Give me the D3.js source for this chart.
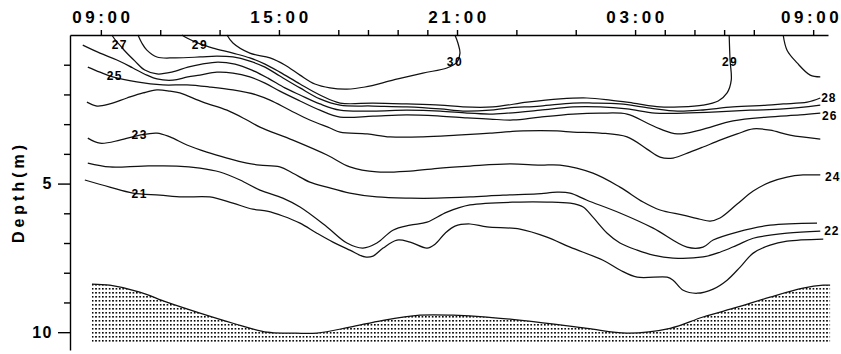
<!DOCTYPE html>
<html>
<head>
<meta charset="utf-8">
<script src="https://cdn.jsdelivr.net/npm/d3@7"></script>
<style>
  body { margin: 0; background: #fff; }
  svg { display: block; }
  .axis path, .axis line { stroke: #000; stroke-width: 1.4; }
  .axis text { font-family: "Liberation Sans", Arial, sans-serif; font-weight: bold; fill: #000; }
  .iso { fill: none; stroke: #111; stroke-width: 1.25; }
  .lbl { font-family: "Liberation Sans", Arial, sans-serif; font-weight: bold; font-size: 12px; letter-spacing: 1.5px; fill: #000; }
</style>
</head>
<body>
<svg id="chart" width="841" height="354"></svg>
<script>
// Each point is [hours after 09:00, depth in m]
const iso30 = [[4.25,0],[4.45,0.27],[5.02,0.61],[5.70,0.77],[6.20,1.01],[6.71,1.35],[7.21,1.65],[7.72,1.78],[8.29,1.82],[8.90,1.75],[9.84,1.52],[10.85,1.28],[11.66,1.11],[12.00,0.91],[12.10,0.61],[12.03,0.27],[11.93,0]];
const iso29 = [[2.73,0],[2.90,0.10],[3.34,0.30],[3.78,0.44],[4.45,0.61],[5.02,0.77],[5.53,0.98],[6.03,1.25],[6.71,1.65],[7.38,2.02],[8.06,2.29],[9.17,2.29],[10.31,2.32],[11.43,2.36],[12.20,2.42],[13.21,2.42],[14.36,2.26],[15.47,2.15],[16.38,2.12],[17.16,2.19],[17.93,2.29],[18.84,2.42],[19.52,2.42],[20.29,2.36],[20.80,2.22],[21.10,1.95],[21.24,1.52],[21.20,0.84],[21.17,0]];
const iso29b = [[22.99,0],[23.12,0.51],[23.46,0.94],[23.90,1.35],[24.24,1.41]];
const iso28 = [[1.25,0],[1.38,0.27],[1.55,0.51],[1.89,0.74],[2.49,0.77],[3.34,0.74],[3.91,0.71],[4.45,0.74],[5.02,0.88],[5.53,1.08],[6.03,1.38],[6.71,1.78],[7.38,2.15],[8.06,2.36],[9.17,2.39],[10.31,2.42],[11.43,2.49],[12.20,2.56],[13.11,2.53],[13.69,2.46],[14.80,2.39],[15.91,2.29],[16.58,2.29],[17.49,2.32],[18.51,2.46],[19.42,2.56],[20.19,2.53],[21.30,2.42],[22.45,2.36],[22.99,2.32],[23.80,2.26],[24.24,2.12]];
const iso27 = [[0.37,0],[0.51,0.20],[0.64,0.34],[0.81,0.54],[1.15,0.88],[1.48,1.18],[1.89,1.31],[2.39,1.25],[2.93,1.08],[3.40,0.98],[3.94,0.91],[4.52,0.98],[5.09,1.18],[5.63,1.45],[6.20,1.78],[6.71,2.02],[7.38,2.32],[8.06,2.53],[9.17,2.56],[10.31,2.53],[11.43,2.56],[12.34,2.63],[13.11,2.66],[13.69,2.63],[14.80,2.53],[15.91,2.42],[16.82,2.42],[17.73,2.49],[18.67,2.63],[19.62,2.63],[20.76,2.59],[21.88,2.53],[22.99,2.49],[24.24,2.36]];
const iso26 = [[-0.61,0.34],[-0.03,0.61],[0.54,0.84],[1.08,1.11],[1.55,1.35],[1.89,1.48],[2.43,1.52],[2.93,1.41],[3.34,1.35],[3.91,1.25],[4.45,1.28],[5.02,1.41],[5.53,1.62],[6.03,1.89],[6.71,2.22],[7.38,2.53],[8.06,2.76],[9.17,2.73],[10.31,2.69],[11.43,2.73],[12.34,2.79],[13.11,2.83],[13.89,2.86],[14.80,2.76],[15.91,2.66],[16.82,2.63],[17.73,2.66],[18.40,2.96],[18.84,3.16],[19.42,3.33],[20.19,3.20],[21.30,2.89],[22.45,2.76],[23.56,2.69],[24.24,2.63]];
const iso25 = [[-0.44,1.08],[-0.03,1.25],[0.40,1.41],[1.21,1.58],[2.09,1.68],[2.90,1.68],[3.67,1.75],[4.45,1.85],[5.26,2.02],[5.70,2.19],[6.37,2.53],[7.04,2.86],[7.72,3.13],[8.06,3.27],[8.97,3.33],[9.74,3.43],[10.85,3.43],[12.00,3.37],[13.11,3.30],[14.22,3.23],[15.37,3.23],[15.91,3.27],[16.82,3.30],[17.73,3.43],[18.40,3.84],[18.84,4.11],[19.28,4.14],[19.85,3.94],[20.29,3.77],[20.86,3.54],[21.44,3.33],[21.98,3.16],[22.55,3.20],[23.22,3.37],[24.24,3.50]];
const iso24 = [[-0.47,2.26],[-0.13,2.39],[0.30,2.32],[0.88,2.12],[1.42,1.95],[1.89,1.85],[2.33,1.89],[2.66,1.95],[3.44,2.26],[4.25,2.53],[4.92,2.86],[5.36,3.10],[6.47,3.54],[7.62,4.04],[8.39,4.44],[9.30,4.61],[10.42,4.58],[11.43,4.48],[12.44,4.41],[13.79,4.34],[14.80,4.38],[15.47,4.38],[16.58,4.65],[17.49,5.12],[18.27,5.62],[18.84,5.89],[19.62,6.06],[20.19,6.20],[20.53,6.26],[20.86,6.16],[21.44,5.69],[21.98,5.25],[22.55,4.95],[23.12,4.78],[23.66,4.71],[24.24,4.71]];
const iso23 = [[-0.44,3.47],[-0.03,3.64],[0.64,3.54],[1.31,3.37],[1.89,3.30],[2.33,3.43],[2.90,3.70],[3.57,3.94],[4.25,4.14],[4.92,4.31],[5.36,4.38],[6.03,4.44],[6.47,4.65],[7.04,4.95],[7.62,5.12],[8.39,5.32],[9.30,5.45],[10.42,5.49],[11.33,5.49],[12.44,5.45],[13.55,5.39],[14.70,5.35],[15.37,5.29],[15.81,5.32],[16.38,5.56],[17.49,5.99],[18.61,6.50],[19.75,7.14],[20.29,7.14],[20.63,6.90],[21.44,6.63],[22.55,6.40],[24.13,6.33]];
const iso22 = [[-0.44,4.31],[0.30,4.44],[1.42,4.41],[2.56,4.41],[3.34,4.48],[4.01,4.61],[4.69,4.88],[5.36,5.22],[6.13,5.49],[6.71,5.79],[7.62,6.46],[8.29,7.00],[8.83,7.17],[9.30,7.00],[9.84,6.57],[10.42,6.40],[10.99,6.30],[11.66,5.96],[12.44,5.72],[14.12,5.62],[15.03,5.62],[15.81,5.66],[16.25,5.79],[16.58,6.13],[17.06,6.67],[17.49,7.00],[18.07,7.24],[18.61,7.41],[19.28,7.51],[20.29,7.47],[20.86,7.31],[21.44,7.07],[21.98,6.84],[23.12,6.67],[24.24,6.60]];
const iso21 = [[-0.54,4.88],[0.30,5.12],[1.08,5.32],[1.99,5.39],[2.76,5.45],[3.67,5.45],[4.45,5.66],[5.12,5.86],[5.60,5.93],[6.13,6.09],[6.71,6.33],[7.28,6.67],[7.82,6.97],[8.39,7.24],[8.90,7.47],[9.17,7.44],[9.51,7.17],[9.98,6.90],[10.42,6.97],[10.99,7.17],[11.26,7.04],[11.60,6.67],[11.93,6.43],[12.44,6.36],[13.01,6.46],[14.12,6.53],[15.03,6.80],[15.81,7.14],[16.92,7.58],[17.49,7.91],[18.07,8.15],[19.08,8.15],[19.28,8.25],[19.62,8.59],[20.09,8.69],[20.63,8.55],[21.10,8.25],[21.54,7.81],[21.98,7.34],[22.55,7.07],[23.12,6.94],[24.34,6.87]];

// sea floor (top of the stippled area)
const seabed = [[-0.30,8.38],[0.30,8.42],[1.31,8.65],[2.22,8.99],[3.34,9.36],[4.45,9.70],[5.60,10.00],[6.37,10.03],[7.28,10.03],[8.39,9.83],[9.51,9.60],[10.75,9.43],[11.87,9.43],[13.01,9.49],[14.70,9.66],[16.38,9.87],[17.73,10.03],[19.18,9.87],[20.29,9.49],[21.44,9.16],[22.55,8.82],[23.66,8.52],[24.34,8.42],[24.57,8.42]];
const seabedBase = 10.37;

const isotherms = [iso30, iso29, iso29b, iso28, iso27, iso26, iso25, iso24, iso23, iso22, iso21];

// contour labels: text, hours, depth, anchor
const contourLabels = [
    ["27", 0.64, 0.34, "middle"], ["29", 3.34, 0.34, "middle"], ["25", 0.47, 1.38, "middle"],
    ["23", 1.31, 3.37, "middle"], ["21", 1.31, 5.35, "middle"], ["30", 11.93, 0.91, "middle"],
    ["29", 21.20, 0.91, "middle"], ["28", 24.27, 2.12, "start"], ["26", 24.30, 2.73, "start"],
    ["24", 24.40, 4.78, "start"], ["22", 24.37, 6.60, "start"]
];

const hourTicks = [0, 2, 4, 6, 8, 9, 10, 11, 12, 14, 16, 18, 19, 20, 21, 22, 24];
const hourLabels = { 0: "09:00", 6: "15:00", 12: "21:00", 18: "03:00", 24: "09:00" };
const depthTicks = [1, 2, 3, 4, 5, 6, 7, 8, 9, 10];
const depthLabels = [5, 10];

const svg = d3.select("#chart");

const x = d3.scaleLinear().domain([-1.04, 24.5]).range([70, 828]);
const y = d3.scaleLinear().domain([0, 10.6]).range([35, 350]);

// stipple pattern for the bottom
svg.append("defs").append("pattern")
    .attr("id", "stipple")
    .attr("patternUnits", "userSpaceOnUse")
    .attr("width", 3.4)
    .attr("height", 4)
    .append("rect")
    .attr("width", 1.6)
    .attr("height", 1.6)
    .attr("fill", "#000");

const area = d3.area()
    .x(d => x(d[0]))
    .y0(y(seabedBase))
    .y1(d => y(d[1]))
    .curve(d3.curveCatmullRom);

svg.append("path")
    .datum(seabed)
    .attr("fill", "url(#stipple)")
    .attr("d", area);

const line = d3.line()
    .x(d => x(d[0]))
    .y(d => y(d[1]))
    .curve(d3.curveCatmullRom.alpha(0.5));

svg.append("path")
    .datum(seabed)
    .attr("class", "iso")
    .attr("d", line);

svg.selectAll(".isoline")
    .data(isotherms)
    .enter()
    .append("path")
    .attr("class", "iso isoline")
    .attr("d", line);

svg.selectAll(".lbl")
    .data(contourLabels)
    .enter()
    .append("text")
    .attr("class", "lbl")
    .attr("x", d => x(d[1]))
    .attr("y", d => y(d[2]))
    .attr("dy", "0.35em")
    .attr("text-anchor", d => d[3])
    .style("letter-spacing", d => d[3] === "start" ? "1px" : null)
    .text(d => d[0]);

// top time axis
const xAxis = svg.append("g")
    .attr("class", "axis")
    .attr("transform", `translate(0,${y(0)})`)
    .call(d3.axisTop(x).tickValues(hourTicks).tickSize(5).tickSizeOuter(0).tickPadding(7)
        .tickFormat(h => hourLabels[h] || ""));
xAxis.selectAll("text")
    .style("font-size", "17px")
    .style("letter-spacing", "3.6px")
    .attr("dx", h => h === 24 ? -2 : 1.5);

// left depth axis
const yAxis = svg.append("g")
    .attr("class", "axis")
    .attr("transform", `translate(${x.range()[0]},0)`)
    .call(d3.axisLeft(y).tickValues(depthTicks).tickSize(6).tickSizeOuter(0).tickPadding(11)
        .tickFormat(d => depthLabels.includes(d) ? d : ""));
yAxis.selectAll(".tick")
    .filter(d => depthLabels.includes(d))
    .select("line")
    .attr("x2", -12);
yAxis.selectAll("text")
    .style("font-size", "16px")
    .style("letter-spacing", "1.5px");

svg.append("text")
    .attr("transform", "translate(24,192) rotate(-90)")
    .attr("text-anchor", "middle")
    .style("font-family", "'Liberation Sans', Arial, sans-serif")
    .style("font-weight", "bold")
    .style("font-size", "16px")
    .style("letter-spacing", "4px")
    .text("Depth(m)");
</script>
</body>
</html>
